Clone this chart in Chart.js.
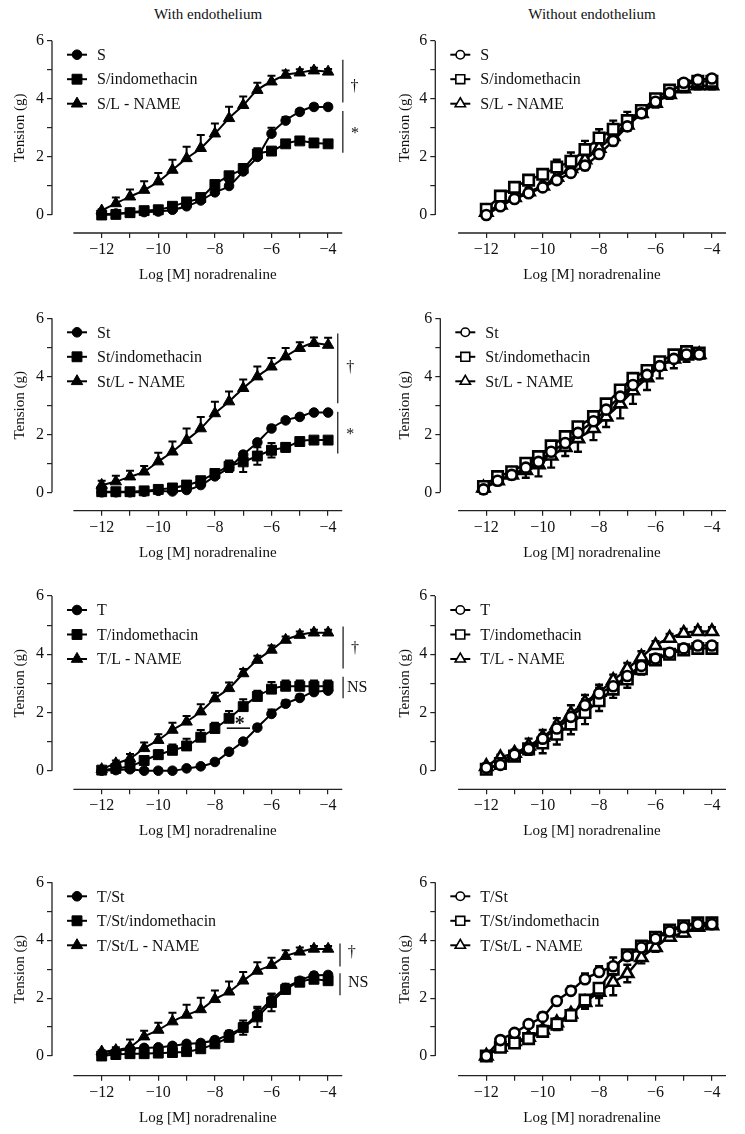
<!DOCTYPE html>
<html>
<head>
<meta charset="utf-8">
<script src="https://cdn.jsdelivr.net/npm/chart.js@4.4.1/dist/chart.umd.min.js"></script>
<style>
html,body{margin:0;padding:0;background:#fff;}
body{width:745px;height:1134px;position:relative;overflow:hidden;font-family:"Liberation Serif","Times New Roman",serif;}
canvas{position:absolute;}
.hdr{position:absolute;top:6px;line-height:17px;font-size:15px;color:#111;transform:translateX(-50%);white-space:nowrap;}
</style>
</head>
<body>
<div class="hdr" style="left:208px">With endothelium</div>
<div class="hdr" style="left:592px">Without endothelium</div>
<script>
// ---------------- DATA ----------------
const doseX        = [-12,-11.5,-11,-10.5,-10,-9.5,-9,-8.5,-8,-7.5,-7,-6.5,-6,-5.5,-5,-4.5,-4];
const doseXPanelF  = [-12.1,-11.6,-11.1,-10.6,-10.15,-9.7,-9.2,-8.75,-8.2,-7.75,-7.25,-6.8,-6.3,-5.85,-5.35,-4.9,-4.45];
const xTickValues  = [-12,-11,-10,-9,-8,-7,-6,-5,-4];
const yTickValues  = [0,1,2,3,4,5,6];

// Panel A: S, with endothelium
const sWith        = [0.02,0.05,0.08,0.1,0.12,0.18,0.3,0.5,0.78,1.0,1.5,2.0,2.8,3.25,3.55,3.72,3.72];
const sWithErr     = [0.02,0.03,0.05,0.05,0.05,0.08,0.1,0.1,0.12,0.15,0.15,0.2,0.2,0.12,0.1,0.1,0.1];
const sIndoWith    = [0,0.02,0.08,0.15,0.18,0.3,0.45,0.6,1.05,1.35,1.6,2.1,2.2,2.45,2.55,2.48,2.45];
const sIndoWithErr = [0.02,0.03,0.05,0.05,0.05,0.08,0.08,0.1,0.12,0.12,0.15,0.2,0.12,0.08,0.06,0.06,0.06];
const sLnWith      = [0.15,0.4,0.63,0.86,1.15,1.55,1.95,2.3,2.8,3.33,3.78,4.3,4.59,4.82,4.9,4.97,4.93];
const sLnWithErr   = [0.05,0.2,0.25,0.3,0.3,0.35,0.4,0.45,0.35,0.4,0.3,0.25,0.2,0.15,0.12,0.1,0.1];

// Panel B: St, with endothelium
const stWith        = [0,0,0,0.02,0.05,0.03,0.08,0.25,0.55,0.85,1.3,1.72,2.2,2.48,2.6,2.75,2.75];
const stWithErr     = [0.02,0.02,0.02,0.02,0.03,0.03,0.05,0.05,0.06,0.08,0.08,0.08,0.1,0.08,0.06,0.05,0.05];
const stIndoWith    = [0.02,0.02,0.02,0.05,0.1,0.15,0.25,0.4,0.65,0.9,1.05,1.25,1.45,1.55,1.75,1.8,1.8];
const stIndoWithErr = [0.02,0.02,0.02,0.02,0.05,0.05,0.08,0.08,0.1,0.2,0.35,0.3,0.25,0.15,0.1,0.1,0.1];
const stLnWith      = [0.25,0.37,0.54,0.71,1.06,1.4,1.8,2.2,2.72,3.13,3.59,3.99,4.33,4.68,4.97,5.14,5.08];
const stLnWithErr   = [0.15,0.2,0.2,0.2,0.3,0.35,0.4,0.4,0.4,0.35,0.3,0.35,0.3,0.3,0.2,0.2,0.25];

// Panel C: T, with endothelium
const tWith        = [0,0.02,0.05,0,0,0,0.08,0.15,0.3,0.65,1.0,1.48,1.95,2.3,2.5,2.7,2.75];
const tWithErr     = [0.02,0.05,0.08,0.05,0.03,0.03,0.05,0.05,0.05,0.05,0.08,0.1,0.15,0.12,0.12,0.1,0.1];
const tIndoWith    = [0.02,0.08,0.15,0.35,0.55,0.7,0.85,1.15,1.45,1.8,2.2,2.55,2.8,2.9,2.9,2.9,2.9];
const tIndoWithErr = [0.02,0.05,0.08,0.1,0.15,0.2,0.25,0.25,0.2,0.25,0.25,0.2,0.25,0.2,0.2,0.2,0.2];
const tLnWith      = [0.05,0.25,0.42,0.77,1.05,1.4,1.68,2.03,2.48,2.83,3.34,3.8,4.15,4.49,4.66,4.74,4.74];
const tLnWithErr   = [0.05,0.1,0.15,0.2,0.2,0.25,0.2,0.25,0.2,0.2,0.15,0.15,0.15,0.12,0.12,0.1,0.1];

// Panel D: T/St, with endothelium
const tsWith        = [0.05,0.15,0.25,0.28,0.3,0.35,0.42,0.45,0.55,0.75,1.0,1.45,1.95,2.35,2.6,2.78,2.8];
const tsWithErr     = [0.02,0.05,0.1,0.08,0.08,0.08,0.08,0.08,0.1,0.12,0.15,0.2,0.2,0.15,0.1,0.1,0.08];
const tsIndoWith    = [0,0.05,0.08,0.08,0.1,0.12,0.15,0.25,0.42,0.65,0.98,1.35,1.85,2.3,2.55,2.65,2.6];
const tsIndoWithErr = [0.02,0.05,0.1,0.1,0.1,0.1,0.1,0.1,0.1,0.15,0.25,0.35,0.3,0.15,0.1,0.1,0.1];
const tsLnWith      = [0.15,0.2,0.32,0.67,0.9,1.19,1.42,1.61,1.96,2.22,2.6,2.94,3.14,3.45,3.6,3.7,3.7];
const tsLnWithErr   = [0.05,0.1,0.25,0.2,0.25,0.3,0.35,0.4,0.3,0.35,0.3,0.3,0.25,0.2,0.15,0.1,0.1];

// Panel E: S, without endothelium
const sWo        = [0.0,0.3,0.55,0.75,0.95,1.2,1.45,1.7,2.1,2.55,3.05,3.5,3.9,4.2,4.55,4.65,4.7];
const sWoErr     = [0.1,0.08,0.1,0.1,0.1,0.12,0.12,0.15,0.15,0.15,0.15,0.12,0.12,0.12,0.1,0.1,0.1];
const sIndoWo    = [0.2,0.65,0.95,1.2,1.4,1.65,1.85,2.25,2.65,2.95,3.25,3.6,4.0,4.3,4.45,4.6,4.6];
const sIndoWoErr = [0.15,0.12,0.12,0.15,0.15,0.25,0.3,0.3,0.3,0.3,0.3,0.15,0.15,0.15,0.15,0.15,0.15];
const sLnWo      = [0.1,0.35,0.6,0.8,1.0,1.3,1.6,1.9,2.3,2.7,3.1,3.5,3.85,4.15,4.35,4.45,4.45];
const sLnWoErr   = [0.1,0.1,0.12,0.12,0.12,0.15,0.15,0.15,0.15,0.2,0.2,0.15,0.15,0.15,0.12,0.12,0.12];

// Panel F: St, without endothelium
const stWo        = [0.1,0.4,0.6,0.85,1.05,1.4,1.7,2.05,2.45,2.85,3.3,3.7,4.05,4.35,4.6,4.75,4.75];
const stWoErr     = [0.1,0.1,0.1,0.12,0.12,0.15,0.15,0.15,0.15,0.15,0.2,0.2,0.15,0.15,0.12,0.1,0.1];
const stIndoWo    = [0.2,0.54,0.71,1.0,1.23,1.6,1.92,2.26,2.61,3.05,3.53,3.93,4.2,4.5,4.74,4.85,4.8];
const stIndoWoErr = [0.12,0.1,0.12,0.15,0.15,0.15,0.15,0.15,0.15,0.15,0.15,0.15,0.15,0.15,0.12,0.12,0.12];
const stLnWo      = [0.15,0.4,0.6,0.75,0.95,1.25,1.55,1.85,2.2,2.6,3.05,3.5,3.95,4.35,4.6,4.7,4.75];
const stLnWoErr   = [0.2,0.15,0.15,0.25,0.4,0.4,0.3,0.45,0.4,0.35,0.5,0.45,0.42,0.42,0.32,0.2,0.1];

// Panel G: T, without endothelium
const tWo        = [0.1,0.2,0.55,0.75,1.1,1.45,1.85,2.25,2.65,2.9,3.25,3.6,3.85,4.05,4.2,4.3,4.3];
const tWoErr     = [0.08,0.1,0.1,0.15,0.15,0.2,0.2,0.2,0.2,0.15,0.15,0.15,0.15,0.12,0.12,0.12,0.12];
const tIndoWo    = [0.05,0.25,0.5,0.75,0.95,1.25,1.6,2.0,2.4,2.8,3.15,3.5,3.8,4.0,4.15,4.2,4.2];
const tIndoWoErr = [0.1,0.1,0.1,0.2,0.35,0.35,0.35,0.4,0.35,0.3,0.3,0.2,0.15,0.12,0.12,0.12,0.12];
const tLnWo      = [0.15,0.45,0.6,0.85,1.15,1.55,1.95,2.35,2.7,3.1,3.5,3.9,4.3,4.55,4.72,4.78,4.78];
const tLnWoErr   = [0.1,0.1,0.12,0.25,0.25,0.25,0.3,0.25,0.25,0.2,0.2,0.2,0.15,0.15,0.15,0.15,0.15];

// Panel H: T/St, without endothelium
const tsWo        = [0.0,0.55,0.8,1.1,1.35,1.9,2.25,2.65,2.9,3.1,3.45,3.75,4.05,4.3,4.45,4.55,4.55];
const tsWoErr     = [0.05,0.1,0.1,0.1,0.15,0.12,0.15,0.2,0.2,0.3,0.15,0.12,0.12,0.1,0.1,0.1,0.1];
const tsIndoWo    = [0.0,0.3,0.45,0.6,0.85,1.1,1.4,1.93,2.34,3.0,3.5,3.8,4.1,4.35,4.5,4.6,4.6];
const tsIndoWoErr = [0.05,0.1,0.1,0.12,0.15,0.2,0.15,0.3,0.6,0.2,0.15,0.15,0.15,0.12,0.12,0.12,0.12];
const tsLnWo      = [0.0,0.3,0.5,0.65,0.9,1.15,1.45,1.85,2.2,2.55,2.85,3.4,3.75,4.1,4.25,4.45,4.5];
const tsLnWoErr   = [0.05,0.1,0.1,0.12,0.15,0.15,0.15,0.2,0.2,0.45,0.3,0.2,0.15,0.12,0.12,0.1,0.1];

// Significance annotations (data units)
const notesA = [{k:'bar',x:-3.48,y1:5.34,y2:3.87},{k:'txt',x:-3.07,y:4.4,t:'\u2020'},{k:'bar',x:-3.48,y1:3.58,y2:2.14},{k:'txt',x:-3.05,y:2.8,t:'*'}];
const notesB = [{k:'bar',x:-3.66,y1:5.48,y2:3.07},{k:'txt',x:-3.22,y:4.3,t:'\u2020'},{k:'bar',x:-3.66,y1:2.78,y2:1.34},{k:'txt',x:-3.22,y:2.0,t:'*'}];
const notesC = [{k:'bar',x:-3.47,y1:4.95,y2:3.51},{k:'txt',x:-3.05,y:4.2,t:'\u2020'},{k:'bar',x:-3.47,y1:3.23,y2:2.49},{k:'txt',x:-3.33,y:2.85,t:'NS',a:'left'},
                {k:'hline',y:1.46,x1:-7.58,x2:-6.76},{k:'txt',x:-7.12,y:1.58,t:'*',bold:true,size:20}];
const notesD = [{k:'bar',x:-3.58,y1:3.89,y2:3.09},{k:'txt',x:-3.16,y:3.56,t:'\u2020'},{k:'bar',x:-3.58,y1:2.86,y2:2.1},{k:'txt',x:-3.3,y:2.52,t:'NS',a:'left'}];

// ---------------- LAYOUT ----------------
const FONT = '"Liberation Serif","Times New Roman",serif';
const INK = '#111';
const cols = [
  {left:0,   width:372, tick12:101.7, unit:28.3, yAxis:52,    yTitleX:20},
  {left:372, width:373, tick12:486.3, unit:28.2, yAxis:435.3, yTitleX:405.5}
];
const rows = [
  {top:0,   bottom:291,  y6:40.7,  y0:215,    axis:233},
  {top:291, bottom:569,  y6:318.3, y0:492.3,  axis:510.7},
  {top:569, bottom:848,  y6:596,   y0:770.7,  axis:789.3},
  {top:848, bottom:1134, y6:882.3, y0:1056,   axis:1075.7}
];

const panels = [
  {col:0,row:0,x:doseX,filled:true,names:['S','S/indomethacin','S/L - NAME'],vals:[sWith,sIndoWith,sLnWith],errs:[sWithErr,sIndoWithErr,sLnWithErr],dirs:['up','up','up'],notes:notesA},
  {col:0,row:1,x:doseX,filled:true,names:['St','St/indomethacin','St/L - NAME'],vals:[stWith,stIndoWith,stLnWith],errs:[stWithErr,stIndoWithErr,stLnWithErr],dirs:['up','both','up'],notes:notesB},
  {col:0,row:2,x:doseX,filled:true,names:['T','T/indomethacin','T/L - NAME'],vals:[tWith,tIndoWith,tLnWith],errs:[tWithErr,tIndoWithErr,tLnWithErr],dirs:['up','up','up'],notes:notesC},
  {col:0,row:3,x:doseX,filled:true,names:['T/St','T/St/indomethacin','T/St/L - NAME'],vals:[tsWith,tsIndoWith,tsLnWith],errs:[tsWithErr,tsIndoWithErr,tsLnWithErr],dirs:['up','both','up'],notes:notesD},
  {col:1,row:0,x:doseX,filled:false,names:['S','S/indomethacin','S/L - NAME'],vals:[sWo,sIndoWo,sLnWo],errs:[sWoErr,sIndoWoErr,sLnWoErr],dirs:['both','up','both'],notes:[]},
  {col:1,row:1,x:doseXPanelF,filled:false,yAxis:440.3,names:['St','St/indomethacin','St/L - NAME'],vals:[stWo,stIndoWo,stLnWo],errs:[stWoErr,stIndoWoErr,stLnWoErr],dirs:['up','up','down'],notes:[]},
  {col:1,row:2,x:doseX,filled:false,names:['T','T/indomethacin','T/L - NAME'],vals:[tWo,tIndoWo,tLnWo],errs:[tWoErr,tIndoWoErr,tLnWoErr],dirs:['up','down','up'],notes:[]},
  {col:1,row:3,x:doseX,filled:false,names:['T/St','T/St/indomethacin','T/St/L - NAME'],vals:[tsWo,tsIndoWo,tsLnWo],errs:[tsWoErr,tsIndoWoErr,tsLnWoErr],dirs:['up','down','both'],notes:[]}
];

const STYLES = ['circle','rect','triangle'];
const RADII_FILLED = [4.8,7,6.6];
const RADII_OPEN   = [5,7.4,7];

function fmt(v){ return v < 0 ? '\u2212' + Math.abs(v) : String(v); }

function drawMarker(ctx, style, r, x, y, filled){
  ctx.save();
  ctx.beginPath();
  if (style === 'circle') ctx.arc(x, y, r, 0, Math.PI*2);
  else if (style === 'rect') { const s = r*Math.SQRT1_2; ctx.rect(x-s, y-s, 2*s, 2*s); }
  else {
    let a = 0;
    ctx.moveTo(x + Math.sin(a)*r, y - Math.cos(a)*r); a += 2*Math.PI/3;
    ctx.lineTo(x + Math.sin(a)*r, y - Math.cos(a)*r); a += 2*Math.PI/3;
    ctx.lineTo(x + Math.sin(a)*r, y - Math.cos(a)*r);
    ctx.closePath();
  }
  ctx.fillStyle = filled ? '#000' : '#fff';
  ctx.fill();
  ctx.lineWidth = filled ? 1 : 1.6;
  ctx.strokeStyle = '#000';
  ctx.stroke();
  ctx.restore();
}

const paperPlugin = {
  id: 'paper',
  beforeDatasetsDraw(chart, args, opts){
    const ctx = chart.ctx, xs = chart.scales.x, ys = chart.scales.y;
    const p = opts.panel;
    ctx.save();
    ctx.strokeStyle = '#000';
    ctx.lineWidth = p.filled ? 2 : 2.4;
    p.vals.forEach((vals, i) => {
      const err = p.errs[i], dir = p.dirs[i];
      vals.forEach((v, j) => {
        const px = xs.getPixelForValue(p.x[j]);
        const ends = [];
        if (dir === 'up' || dir === 'both') ends.push(v + err[j]);
        if (dir === 'down' || dir === 'both') ends.push(v - err[j]);
        ends.forEach(e => {
          const y1 = ys.getPixelForValue(v), y2 = ys.getPixelForValue(e);
          ctx.beginPath();
          ctx.moveTo(px, y1); ctx.lineTo(px, y2);
          ctx.moveTo(px - 4, y2); ctx.lineTo(px + 4, y2);
          ctx.stroke();
        });
      });
    });
    ctx.restore();
  },
  afterDraw(chart, args, opts){
    const ctx = chart.ctx, xs = chart.scales.x, ys = chart.scales.y, ca = chart.chartArea;
    const p = opts.panel;
    ctx.save();
    // axis lines
    ctx.strokeStyle = '#222';
    ctx.lineWidth = 1.3;
    ctx.beginPath();
    ctx.moveTo(ca.left, ys.getPixelForValue(6));
    ctx.lineTo(ca.left, ys.getPixelForValue(0));
    ctx.moveTo(xs.getPixelForValue(-13), ca.bottom);
    ctx.lineTo(xs.getPixelForValue(-3.5), ca.bottom);
    ctx.stroke();
    // axis titles
    ctx.fillStyle = INK;
    ctx.font = '15px ' + FONT;
    ctx.textAlign = 'center';
    ctx.textBaseline = 'middle';
    ctx.fillText('Log [M] noradrenaline', (xs.getPixelForValue(-13) + xs.getPixelForValue(-3.5))/2, ca.bottom + 42);
    ctx.save();
    ctx.translate(opts.yTitleX, ys.getPixelForValue(3));
    ctx.rotate(-Math.PI/2);
    ctx.fillText('Tension (g)', 0, 0);
    ctx.restore();
    // legend
    const ly0 = ys.getPixelForValue(6) + 14;
    const radii = p.filled ? RADII_FILLED : RADII_OPEN;
    p.names.forEach((name, i) => {
      const y = ly0 + i*24.5;
      const x0 = ca.left + 15;
      ctx.strokeStyle = '#000';
      ctx.lineWidth = 2;
      ctx.beginPath(); ctx.moveTo(x0, y); ctx.lineTo(x0 + 20, y); ctx.stroke();
      drawMarker(ctx, STYLES[i], radii[i] * (p.filled ? 1 : 0.85), x0 + 10, y, p.filled);
      ctx.fillStyle = INK;
      ctx.font = '16px ' + FONT;
      ctx.textAlign = 'left';
      ctx.fillText(name, ca.left + 45, y + 1);
    });
    // significance notes
    p.notes.forEach(n => {
      if (n.k === 'bar') {
        ctx.strokeStyle = '#333'; ctx.lineWidth = 1.4;
        const x = xs.getPixelForValue(n.x);
        ctx.beginPath(); ctx.moveTo(x, ys.getPixelForValue(n.y1)); ctx.lineTo(x, ys.getPixelForValue(n.y2)); ctx.stroke();
      } else if (n.k === 'hline') {
        ctx.strokeStyle = '#111'; ctx.lineWidth = 1.6;
        const y = ys.getPixelForValue(n.y);
        ctx.beginPath(); ctx.moveTo(xs.getPixelForValue(n.x1), y); ctx.lineTo(xs.getPixelForValue(n.x2), y); ctx.stroke();
      } else {
        ctx.fillStyle = INK;
        ctx.font = (n.bold ? 'bold ' : '') + (n.size || 16) + 'px ' + FONT;
        ctx.textAlign = n.a || 'center';
        ctx.textBaseline = 'middle';
        ctx.fillText(n.t, xs.getPixelForValue(n.x), ys.getPixelForValue(n.y));
      }
    });
    ctx.restore();
  }
};

panels.forEach((p, idx) => {
  const c = cols[p.col], r = rows[p.row];
  const yAxis = p.yAxis || c.yAxis;
  const xMin = -12 - (c.tick12 - yAxis)/c.unit;
  const rightPx = c.tick12 + 8.5*c.unit;
  const yUnit = (r.y0 - r.y6)/6;
  const yMin = -(r.axis - r.y0)/yUnit;
  const W = c.width, H = r.bottom - r.top;
  const radii = p.filled ? RADII_FILLED : RADII_OPEN;

  const cv = document.createElement('canvas');
  cv.width = W; cv.height = H;
  cv.style.left = c.left + 'px'; cv.style.top = r.top + 'px';
  cv.style.width = W + 'px'; cv.style.height = H + 'px';
  document.body.appendChild(cv);

  const datasets = p.vals.map((vals, i) => ({
    label: p.names[i],
    data: vals.map((v, j) => ({x: p.x[j], y: v})),
    borderColor: '#000',
    borderWidth: p.filled ? 2 : 2.4,
    pointStyle: STYLES[i],
    pointRadius: radii[i],
    pointBackgroundColor: p.filled ? '#000' : '#fff',
    pointBorderColor: '#000',
    pointBorderWidth: p.filled ? 1 : 2.6,
    cubicInterpolationMode: 'monotone',
    fill: false
  }));

  new Chart(cv, {
    type: 'line',
    data: { datasets },
    plugins: [paperPlugin],
    options: {
      responsive: false,
      animation: false,
      devicePixelRatio: 1,
      events: [],
      layout: { autoPadding: false, padding: { top: r.y6 - r.top, right: (c.left + W) - rightPx, bottom: 0, left: 0 } },
      plugins: {
        legend: { display: false },
        tooltip: { enabled: false },
        paper: { panel: p, yTitleX: c.yTitleX - c.left }
      },
      scales: {
        x: {
          type: 'linear', min: xMin, max: -3.5,
          afterBuildTicks: s => { s.ticks = xTickValues.map(v => ({value: v})); },
          afterFit: s => { s.height = r.bottom - r.axis; },
          ticks: { autoSkip: false, maxRotation: 0, padding: 2, color: INK, font: { family: FONT, size: 16 },
                   callback: v => (v % 2 === 0 ? fmt(v) : '') },
          grid: { display: true, drawOnChartArea: false, drawTicks: true, tickLength: 5, color: '#222', lineWidth: 1.2 },
          border: { display: false }
        },
        y: {
          type: 'linear', min: yMin, max: 6,
          afterBuildTicks: s => { s.ticks = yTickValues.map(v => ({value: v})); },
          afterFit: s => { s.width = yAxis - c.left; },
          ticks: { autoSkip: false, padding: 3, color: INK, font: { family: FONT, size: 16 },
                   callback: v => (v % 2 === 0 ? String(v) : '') },
          grid: { display: true, drawOnChartArea: false, drawTicks: true, tickLength: 5, color: '#222', lineWidth: 1.2 },
          border: { display: false }
        }
      }
    }
  });
});
</script>
</body>
</html>
